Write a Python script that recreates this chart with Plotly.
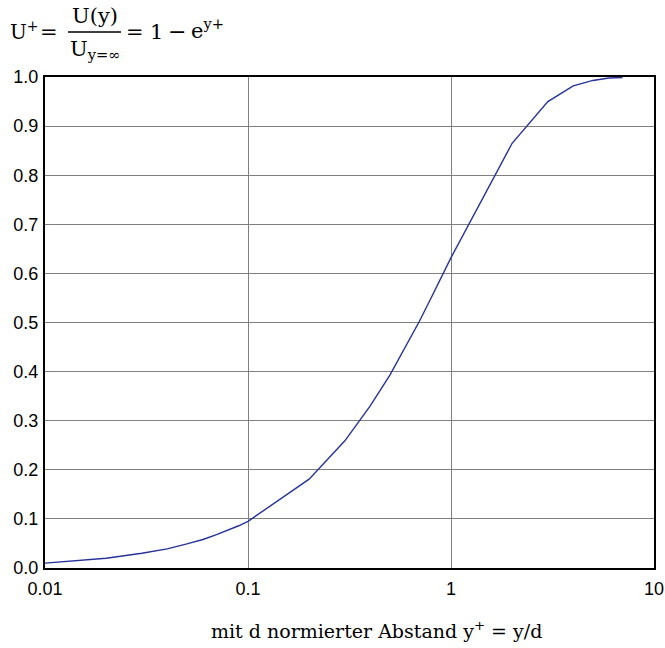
import plotly.graph_objects as go

x_vals = [0.01, 0.02, 0.03, 0.04, 0.05, 0.06, 0.07, 0.08, 0.09,
          0.1, 0.2, 0.3, 0.4, 0.5, 0.6, 0.7, 0.8, 0.9,
          1, 2, 3, 4, 5, 6, 7]
u_vals = [0.010, 0.020, 0.030, 0.039, 0.049, 0.058, 0.068, 0.077, 0.086,
          0.095, 0.181, 0.259, 0.330, 0.393, 0.451, 0.503, 0.551, 0.593,
          0.632, 0.865, 0.950, 0.982, 0.993, 0.998, 0.999]
x_ticks = [0.01, 0.1, 1, 10]
x_tick_labels = ["0.01", "0.1", "1", "10"]
y_ticks = [0.0, 0.1, 0.2, 0.3, 0.4, 0.5, 0.6, 0.7, 0.8, 0.9, 1.0]
y_tick_labels = ["0.0", "0.1", "0.2", "0.3", "0.4", "0.5", "0.6", "0.7", "0.8", "0.9", "1.0"]

W, H = 665, 648
ML, MR, MT, MB = 45, 11, 77, 80

fig = go.Figure()
fig.add_trace(go.Scatter(x=x_vals, y=u_vals, mode="lines",
                         line=dict(color="#26329a", width=1.4),
                         showlegend=False, hoverinfo="skip"))

serif = "DejaVu Serif, Liberation Serif, serif"
sans = "Liberation Sans, Arial, sans-serif"

fig.update_layout(
    width=W, height=H,
    margin=dict(l=ML, r=MR, t=MT, b=MB, autoexpand=False),
    paper_bgcolor="white", plot_bgcolor="white",
    font=dict(family=sans, size=18, color="black"),
    xaxis=dict(type="log", range=[-2, 1], tickvals=x_ticks, ticktext=x_tick_labels,
               showgrid=True, gridcolor="#808080", gridwidth=1,
               showline=True, linecolor="black", linewidth=2, mirror=True,
               ticks="outside", ticklen=3, tickcolor="rgba(0,0,0,0)",
               zeroline=False, automargin=False, tickfont=dict(family=sans, size=18)),
    yaxis=dict(range=[0, 1], tickvals=y_ticks, ticktext=y_tick_labels,
               showgrid=True, gridcolor="#808080", gridwidth=1,
               showline=True, linecolor="black", linewidth=2, mirror=True,
               ticks="outside", ticklen=1, tickcolor="rgba(0,0,0,0)",
               zeroline=False, automargin=False, tickfont=dict(family=sans, size=18)),
)

def px(xp):
    return (xp - ML) / (W - ML - MR)

def py(yp):
    return (H - MB - yp) / (H - MT - MB)

TS = 21
ann = [
    dict(text="U<sup>+</sup>", x=px(8), y=py(31), xanchor="left", yanchor="middle", size=20),
    dict(text="=", x=px(49), y=py(32), xanchor="center", yanchor="middle", size=TS),
    dict(text="U(y)", x=px(95), y=py(16), xanchor="center", yanchor="middle", size=TS),
    dict(text="U<sub>y=∞</sub>", x=px(95), y=py(50), xanchor="center", yanchor="middle", size=TS),
    dict(text="=", x=px(135), y=py(32), xanchor="center", yanchor="middle", size=TS),
    dict(text="1", x=px(156), y=py(32), xanchor="center", yanchor="middle", size=TS),
    dict(text="−", x=px(177), y=py(32), xanchor="center", yanchor="middle", size=TS + 1),
    dict(text="e<sup>y+</sup>", x=px(189), y=py(29), xanchor="left", yanchor="middle", size=TS),
    dict(text="mit d normierter Abstand y<sup>+</sup> = y/d", x=px(376), y=py(630),
         xanchor="center", yanchor="middle", size=19),
]
for a in ann:
    s = a.pop("size")
    fig.add_annotation(xref="paper", yref="paper", showarrow=False,
                       font=dict(family=serif, size=s, color="black"), **a)

fig.add_shape(type="line", xref="paper", yref="paper",
              x0=px(68), x1=px(121), y0=py(32), y1=py(32),
              line=dict(color="black", width=1.3))

fig.write_html("out.html")
